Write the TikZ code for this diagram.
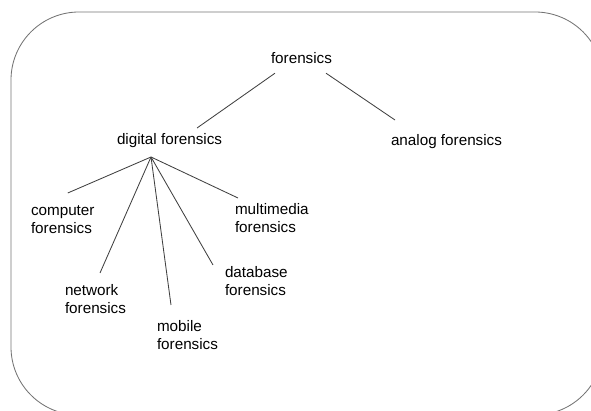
\documentclass[tikz,border=0pt]{standalone}
\usepackage{fontspec}
\setmainfont{Liberation Sans}

\begin{document}
\begin{tikzpicture}[x=0.025cm, y=-0.025cm,
    label/.style={anchor=north west, align=left, inner sep=4*0.025cm, outer sep=0pt,
      font=\fontsize{10.84pt}{12.8pt}\selectfont},
    branch/.style={draw=black!75, line width=0.6pt},
    frame/.style={draw=black!55, line width=0.6pt, rounded corners=1.7cm}]
  \useasboundingbox (0,0) rectangle (591,411);
  \clip (0,0) rectangle (591,411);
  \draw[frame] (11,12) rectangle (603,415);
  \node[label] (for) at (267,48) {forensics};
  \node[label] (dig) at (113,129) {digital forensics};
  \node[label] (ana) at (387,130) {analog forensics};
  \node[label] (comp) at (27,202) {computer\\forensics};
  \node[label] (net) at (61,280) {network\\forensics};
  \node[label] (mob) at (153,316) {mobile\\forensics};
  \node[label] (db) at (221,262) {database\\forensics};
  \node[label] (mm) at (231,199) {multimedia\\forensics};
  \coordinate (hub) at (151,157);
  \draw[branch] ([shift={(8,6)}]for.south west) -- ([shift={(27.5,-1)}]dig.north);
  \draw[branch] ([shift={(-10,6)}]for.south east) -- ([shift={(8,-10)}]ana.north west);
  \draw[branch] (hub) -- ([shift={(5,-9)}]comp.north);
  \draw[branch] (hub) -- ([shift={(4.5,-7)}]net.north);
  \draw[branch] (hub) -- ([shift={(18,-11)}]mob.north west);
  \draw[branch] (hub) -- ([shift={(-8,3)}]db.north west);
  \draw[branch] (hub) -- ([shift={(7,-1)}]mm.north west);
\end{tikzpicture}
\end{document}
